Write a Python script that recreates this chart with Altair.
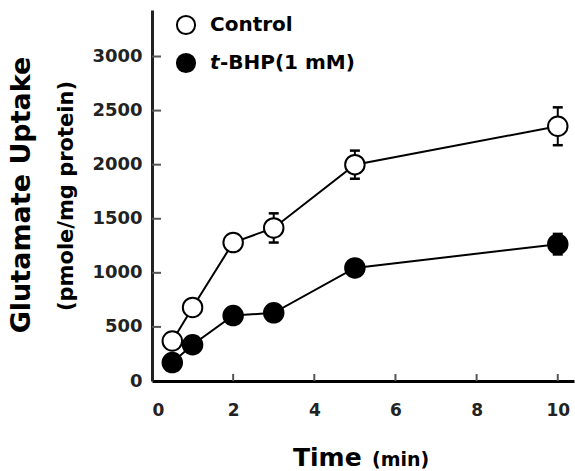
import altair as alt
import pandas as pd

# Glutamate uptake time course, mean ± SE
time_min = [0.5, 1, 2, 3, 5, 10]
control = [370, 680, 1280, 1415, 2000, 2355]
control_se = [40, 45, 50, 135, 130, 175]
tbhp = [170, 335, 605, 630, 1045, 1265]
tbhp_se = [30, 30, 30, 30, 50, 95]

x_ticks = [0, 2, 4, 6, 8, 10]
y_ticks = [0, 500, 1000, 1500, 2000, 2500, 3000]

FONT = "DejaVu Sans"
W, H = 422, 371

rows = []
for t, m, s in zip(time_min, control, control_se):
    rows.append({"time": t, "value": m, "lo": m - s, "hi": m + s, "group": "Control"})
for t, m, s in zip(time_min, tbhp, tbhp_se):
    rows.append({"time": t, "value": m, "lo": m - s, "hi": m + s, "group": "tBHP"})
df = pd.DataFrame(rows)

xs = alt.Scale(domain=[0, 10.4], nice=False, zero=False)
ys = alt.Scale(domain=[0, 3430], nice=False)

x_axis = alt.Axis(values=x_ticks, ticks=False, grid=False, title=None, format="d",
                  labelPadding=21, labelFont=FONT, labelFontSize=17,
                  labelFontWeight="bold", labelColor="#222",
                  domainColor="black", domainWidth=3)
y_axis = alt.Axis(values=y_ticks, ticks=False, grid=False, title=None, format="d",
                  labelPadding=10, labelFont=FONT, labelFontSize=18,
                  labelFontWeight="bold", labelColor="#222",
                  domainColor="#222", domainWidth=3)

base = alt.Chart(df)
X = alt.X("time:Q", scale=xs, axis=x_axis)
Y = alt.Y("value:Q", scale=ys, axis=y_axis)

lines = base.mark_line(color="black", strokeWidth=2).encode(x=X, y=Y, detail="group:N")

stems = base.mark_rule(color="black", strokeWidth=2).encode(
    x=alt.X("time:Q", scale=xs), y=alt.Y("lo:Q", scale=ys), y2="hi:Q")
caps_hi = base.mark_rule(color="black", strokeWidth=2.5, xOffset=-5, x2Offset=5).encode(
    x=alt.X("time:Q", scale=xs), x2="time:Q", y=alt.Y("hi:Q", scale=ys))
caps_lo = base.mark_rule(color="black", strokeWidth=2.5, xOffset=-5, x2Offset=5).encode(
    x=alt.X("time:Q", scale=xs), x2="time:Q", y=alt.Y("lo:Q", scale=ys))

pts_ctrl = alt.Chart(df[df.group == "Control"]).mark_point(
    shape="circle", filled=True, fill="white", stroke="black", strokeWidth=2,
    size=380, opacity=1).encode(x=X, y=Y)
pts_tbhp = alt.Chart(df[df.group == "tBHP"]).mark_point(
    shape="circle", filled=True, fill="black", stroke="black", strokeWidth=2,
    size=380, opacity=1).encode(x=X, y=Y)

# inward-pointing tick marks on both axes
xt = alt.Chart(pd.DataFrame({"v": x_ticks[1:]})).mark_rule(color="#555", strokeWidth=2).encode(
    x=alt.X("v:Q", scale=xs), y=alt.value(H), y2=alt.value(H - 7))
yt = alt.Chart(pd.DataFrame({"v": y_ticks[1:]})).mark_rule(color="#555", strokeWidth=2).encode(
    y=alt.Y("v:Q", scale=ys), x=alt.value(0), x2=alt.value(9))

one = pd.DataFrame({"k": [0]})

def label(text, x, y, size, angle=0, align="left", style="normal", baseline="middle"):
    props = dict(text=text, font=FONT, fontSize=size, fontWeight="bold",
                 align=align, baseline=baseline, color="black")
    if angle:
        props["angle"] = angle
    if style != "normal":
        props["fontStyle"] = style
    return alt.Chart(one).mark_text(**props).encode(x=alt.value(x), y=alt.value(y))

# legend
leg_ctrl = alt.Chart(one).mark_point(shape="circle", filled=True, fill="white", stroke="black",
                                     strokeWidth=2, size=330, opacity=1).encode(
    x=alt.value(34), y=alt.value(15))
leg_tbhp = alt.Chart(one).mark_point(shape="circle", filled=True, fill="black", stroke="black",
                                     strokeWidth=2, size=330, opacity=1).encode(
    x=alt.value(34), y=alt.value(53))

texts = [
    label("Control", 58, 15, 20),
    label("t", 58, 53, 20, style="italic"),
    label("-BHP(1 mM)", 68, 53, 20),
    label("Glutamate Uptake", -130, 185, 27, angle=270, align="center"),
    label("(pmole/mg protein)", -85, 186, 21, angle=270, align="center"),
    label("Time", 141, 456, 25, baseline="alphabetic"),
    label("(min)", 220, 456, 19, baseline="alphabetic"),
]

chart = alt.layer(
    lines, stems, caps_hi, caps_lo, pts_tbhp, pts_ctrl, xt, yt,
    leg_ctrl, leg_tbhp, *texts
).properties(
    width=W, height=H,
    autosize=alt.AutoSizeParams(type="none"),
    padding={"left": 152, "top": 10, "right": 1, "bottom": 90},
    background="white",
).configure_view(stroke=None)

chart.save("out.html", embed_options={"renderer": "svg", "actions": False})
